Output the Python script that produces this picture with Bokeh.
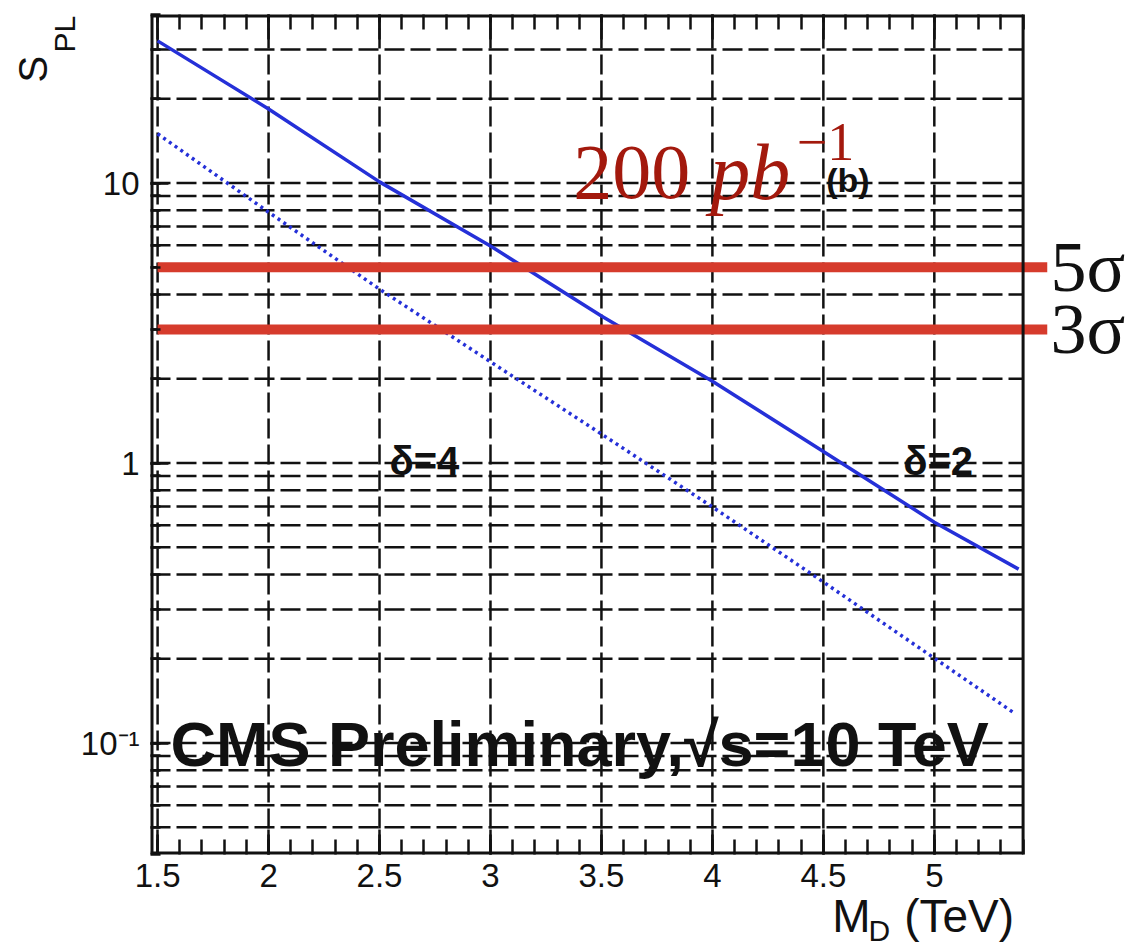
from bokeh.plotting import figure
from bokeh.models import Range1d, FixedTicker, LinearAxis, Label
from bokeh.embed import file_html
from bokeh.resources import INLINE

# Significance S_PL versus the fundamental scale M_D (TeV)
md_delta2 = [1.5, 2.0, 2.5, 3.0, 3.5, 4.0, 4.5, 5.0, 5.38]
spl_delta2 = [32.2, 18.4, 10.1, 5.96, 3.35, 1.96, 1.10, 0.615, 0.418]
md_delta4 = [1.5, 2.0, 2.5, 3.0, 3.5, 4.0, 4.5, 5.0, 5.36]
spl_delta4 = [15.0, 7.87, 4.18, 2.30, 1.27, 0.697, 0.376, 0.201, 0.128]

# discovery / evidence thresholds
sigma_levels = [5, 3]
sigma_labels = ["5σ", "3σ"]

# axis ticks
x_major = [1.5, 2.0, 2.5, 3.0, 3.5, 4.0, 4.5, 5.0]
x_tick_labels = ["1.5", "2", "2.5", "3", "3.5", "4", "4.5", "5"]
x_minor = [round(1.5 + 0.1 * i, 1) for i in range(40)]
y_major = [0.1, 1, 10]
y_tick_labels = ["10⁻¹", "1", "10"]
y_minor = [m * 10.0 ** e for e in (-2, -1, 0, 1) for m in range(1, 10)
           if 0.04 <= m * 10.0 ** e <= 40]

# axis titles, placed as pieces along their axes
x_title_pos = [4.626, 5.112]
x_title_text = ["M", "(TeV)"]
x_title_sub_pos = [4.752]
x_title_sub_text = ["D"]
y_title_pos = [25.5]
y_title_text = ["S"]
y_title_sub_pos = [34.0]
y_title_sub_text = ["PL"]

X_LO, X_FRAME, X_HI = 1.468, 5.40, 5.51
Y_LO, Y_HI = 0.04, 40

BLUE = "#2530d8"
RED = "#d63b2c"
DARK_RED = "#a3190d"
INK = "#111111"

p = figure(width=1138, height=949,
           x_range=Range1d(X_LO, X_HI), y_range=Range1d(Y_LO, Y_HI),
           y_axis_type="log", output_backend="svg", toolbar_location=None,
           min_border_left=150, min_border_right=91,
           min_border_top=14, min_border_bottom=94,
           background_fill_color="white", border_fill_color="white",
           outline_line_color=None)
p.xgrid.visible = False
p.ygrid.visible = False


def style_axis(ax, major_in, minor_in, label_size, standoff, font="Liberation Sans"):
    ax.axis_line_color = None
    ax.major_tick_in = major_in
    ax.major_tick_out = 0
    ax.minor_tick_in = minor_in
    ax.minor_tick_out = 0
    ax.major_tick_line_width = 2.5
    ax.minor_tick_line_width = 2.5
    ax.major_tick_line_color = INK if major_in else None
    ax.minor_tick_line_color = INK if minor_in else None
    ax.major_label_text_font = font
    ax.major_label_text_font_size = label_size
    ax.major_label_text_color = INK
    ax.major_label_standoff = standoff


def text_axis(ticks, labels, size, standoff, font="Liberation Sans", **kw):
    ax = LinearAxis(ticker=FixedTicker(ticks=ticks, minor_ticks=[]), **kw)
    style_axis(ax, 0, 0, size, standoff, font)
    ax.major_label_overrides = dict(zip(ticks, labels))
    return ax


xax = p.xaxis[0]
xax.ticker = FixedTicker(ticks=x_major, minor_ticks=x_minor)
xax.major_label_overrides = dict(zip(x_major, x_tick_labels))
style_axis(xax, 25, 15, "33px", 9)

top = LinearAxis(ticker=FixedTicker(ticks=x_major, minor_ticks=x_minor))
style_axis(top, 25, 15, "0px", 0)
top.major_label_text_alpha = 0
p.add_layout(top, "above")

yax = p.yaxis[0]
yax.ticker = FixedTicker(ticks=y_major, minor_ticks=y_minor)
yax.major_label_overrides = dict(zip(y_major, y_tick_labels))
style_axis(yax, 18, 10, "33px", 11)

# axis titles: main symbol with its subscript on a further axis
p.add_layout(text_axis(x_title_pos, x_title_text, "46px", 0), "below")
p.add_layout(text_axis(x_title_sub_pos, x_title_sub_text, "30px", -31), "below")
p.add_layout(text_axis(y_title_sub_pos, y_title_sub_text, "30px", -4,
                       major_label_orientation="parallel"), "left")
p.add_layout(text_axis(y_title_pos, y_title_text, "40px", -10,
                       major_label_orientation="parallel"), "left")

# threshold labels beside the red lines
p.add_layout(text_axis(sigma_levels, sigma_labels, "72px", 3,
                       font="Liberation Serif"), "right")

# dashed grid: vertical at the major M_D ticks, horizontal at every log tick
grid_y = [v for v in y_minor if Y_LO < v < Y_HI]
p.segment(x0=x_major, x1=x_major, y0=[Y_LO] * len(x_major), y1=[Y_HI] * len(x_major),
          line_color=INK, line_width=2.5, line_dash="20 6")
p.segment(x0=[X_LO] * len(grid_y), x1=[X_FRAME] * len(grid_y), y0=grid_y, y1=grid_y,
          line_color=INK, line_width=2.5, line_dash="20 6")

# the two curves
p.line(md_delta2, spl_delta2, line_color=BLUE, line_width=3.5)
p.line(md_delta4, spl_delta4, line_color=BLUE, line_width=3.5, line_dash="3 4")

# significance thresholds
p.segment(x0=[1.5] * 2, x1=[X_HI] * 2, y0=sigma_levels, y1=sigma_levels,
          line_color=RED, line_width=10)

# frame box
p.segment(x0=[X_LO, X_LO, X_LO], x1=[X_LO, X_FRAME, X_FRAME],
          y0=[Y_LO, Y_LO, Y_HI], y1=[Y_HI, Y_LO, Y_HI],
          line_color=INK, line_width=6)
p.segment(x0=[X_FRAME], x1=[X_FRAME], y0=[Y_LO], y1=[Y_HI],
          line_color=INK, line_width=3)


def label(x, y, text, size, font="Liberation Sans", style="normal", color=INK):
    p.add_layout(Label(x=x, y=y, text=text, text_font=font, text_font_size=size,
                       text_font_style=style, text_color=color,
                       text_align="left", text_baseline="alphabetic"))


# curve labels and header
label(2.545, 1.016, "δ=4", "40px", style="bold")
label(4.860, 1.016, "δ=2", "40px", style="bold")
label(1.558, 0.099, "CMS Preliminary,√s=10 TeV", "63px", style="bold")
label(4.513, 10.25, "(b)", "34px", style="bold")

# integrated luminosity
label(3.373, 10.95, "200", "78px", font="Liberation Serif", color=DARK_RED)
label(3.99, 10.95, "pb", "80px", font="Liberation Serif", style="italic", color=DARK_RED)
label(4.38, 14.0, "−1", "54px", font="Liberation Serif", color=DARK_RED)

open("out.html", "w").write(file_html(p, INLINE))
